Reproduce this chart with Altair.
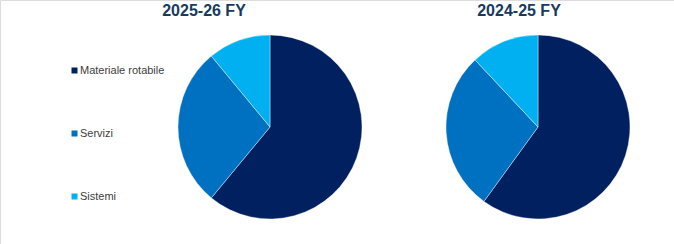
import altair as alt
import pandas as pd

categories = ["Materiale rotabile", "Servizi", "Sistemi"]
years = ["2025-26 FY", "2024-25 FY"]
values_2025_26 = [61, 28, 11]
values_2024_25 = [60, 28, 12]
colors = ["#002060", "#0070C0", "#00B0F0"]

rows = []
for fy, vals in zip(years, [values_2025_26, values_2024_25]):
    for i, (c, v) in enumerate(zip(categories, vals)):
        rows.append({"fy": fy, "category": c, "value": v, "idx": i})
df = pd.DataFrame(rows)
titles_df = pd.DataFrame({"fy": years})

color = alt.Color(
    "category:N",
    scale=alt.Scale(domain=categories, range=colors),
    sort=categories,
    legend=alt.Legend(
        orient="none", legendX=69, legendY=65, direction="vertical",
        symbolType="square", symbolSize=36, symbolStrokeWidth=0,
        labelFontSize=11, labelFont="Liberation Sans", labelColor="#404040",
        rowPadding=51, padding=0, labelOffset=0, title=None,
    ),
)


def pie(fy, cx):
    return (
        alt.Chart(df)
        .transform_filter(alt.datum.fy == fy)
        .mark_arc(outerRadius=92, stroke="white", strokeWidth=0.4)
        .encode(
            theta=alt.Theta("value:Q", stack=True),
            color=color,
            order=alt.Order("idx:Q"),
            x=alt.value(cx),
            y=alt.value(127),
        )
    )


def title(fy, cx):
    return (
        alt.Chart(titles_df)
        .transform_filter(alt.datum.fy == fy)
        .mark_text(font="Liberation Sans", fontSize=16, fontWeight="bold",
                   color="#173B5E", baseline="alphabetic", align="center")
        .encode(text="fy:N", x=alt.value(cx), y=alt.value(16))
    )


chart = alt.layer(
    pie(years[0], 270), pie(years[1], 538),
    title(years[0], 204), title(years[1], 519),
).properties(
    width=674, height=244, autosize=alt.AutoSizeParams(type="none"), padding=0,
).configure_view(stroke=None).configure(background="white")

chart.save("out.html", embed_options={"renderer": "svg", "actions": False})
